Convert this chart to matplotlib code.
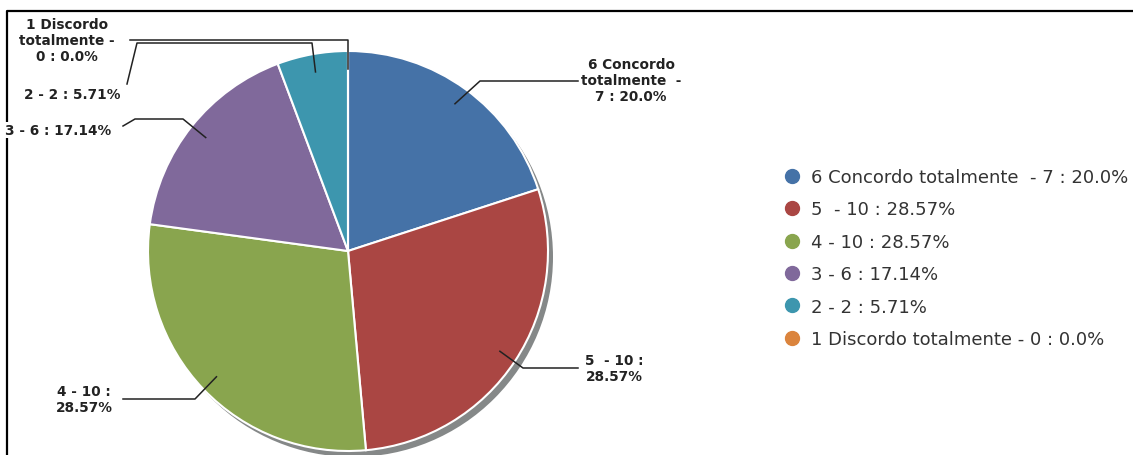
import matplotlib
matplotlib.use("Agg")
import matplotlib.pyplot as plt
from matplotlib.patches import Circle
from matplotlib.lines import Line2D
import numpy as np

# data
categories = ["6 Concordo totalmente ", "5 ", "4", "3", "2", "1 Discordo totalmente"]
counts = [7, 10, 10, 6, 2, 0]
colors = ["#4572A7", "#AA4643", "#89A54E", "#80699B", "#3D96AE", "#DB843D"]
slice_labels = ["6 Concordo\ntotalmente  -\n7 : 20.0%", "5  - 10 :\n28.57%", "4 - 10 :\n28.57%",
                "3 - 6 : 17.14%", "2 - 2 : 5.71%", "1 Discordo\ntotalmente -\n0 : 0.0%"]

total = sum(counts)
pcts = [round(100 * c / total, 2) for c in counts]
legend_labels = [f"{cat} - {c} : {p}%" for cat, c, p in zip(categories, counts, pcts)]

# layout (pixel coords, y down)
cx, cy, r = 348, 252, 200
label_pos = [(631, 81, "center"), (614, 369, "center"), (84, 400, "center"),
             (111, 131, "right"), (72, 95, "center"), (67, 41, "center")]
leader_paths = [[(480, 82), (578, 82)], [(523, 369), (578, 369)], [(195, 400), (123, 400)],
                [(183, 120), (135, 120), (123, 127)], [(312, 44), (137, 44), (127, 85)],
                [(348, 41), (130, 41)]]

fig = plt.figure(figsize=(11.33, 4.56), dpi=100)
ax = fig.add_axes([0, 0, 1, 1])

# shadow
ax.add_patch(Circle((cx + 5, cy + 6), r, facecolor="#858888", edgecolor="none", zorder=0))

wedges, _ = ax.pie(counts, colors=colors, startangle=-90, counterclock=True,
                   center=(cx, cy), radius=r,
                   wedgeprops=dict(edgecolor="white", linewidth=1.5))

for w, text, (tx, ty, ha), path in zip(wedges, slice_labels, label_pos, leader_paths):
    th = np.deg2rad((w.theta1 + w.theta2) / 2)
    sx, sy = cx + 0.91 * r * np.cos(th), cy + 0.91 * r * np.sin(th)
    xs = [sx] + [p[0] for p in path]
    ys = [sy] + [p[1] for p in path]
    ax.plot(xs, ys, color="#222222", lw=1.1, zorder=5)
    ax.text(tx, ty, text, ha=ha, va="center", fontsize=9.8, fontweight="bold",
            color="#222222", linespacing=1.2, zorder=7,
            bbox=dict(facecolor="white", edgecolor="none", pad=0.5))

# frame (top and left only)
ax.plot([7, 7, 1140], [470, 12, 12], color="black", lw=1.6, zorder=6)

handles = [Line2D([], [], marker="o", linestyle="none", markersize=10,
                  markerfacecolor=c, markeredgecolor=c) for c in colors]
ax.legend(handles, legend_labels, loc="upper left", bbox_to_anchor=(783, 169),
          bbox_transform=ax.transData, frameon=False, fontsize=13,
          handlelength=1.0, handletextpad=0.55, labelspacing=0.8,
          borderpad=0, borderaxespad=0, labelcolor="#333333")

ax.set_xlim(0, 1133)
ax.set_ylim(456, 0)
ax.axis("off")

fig.savefig("out.png", dpi=100)
